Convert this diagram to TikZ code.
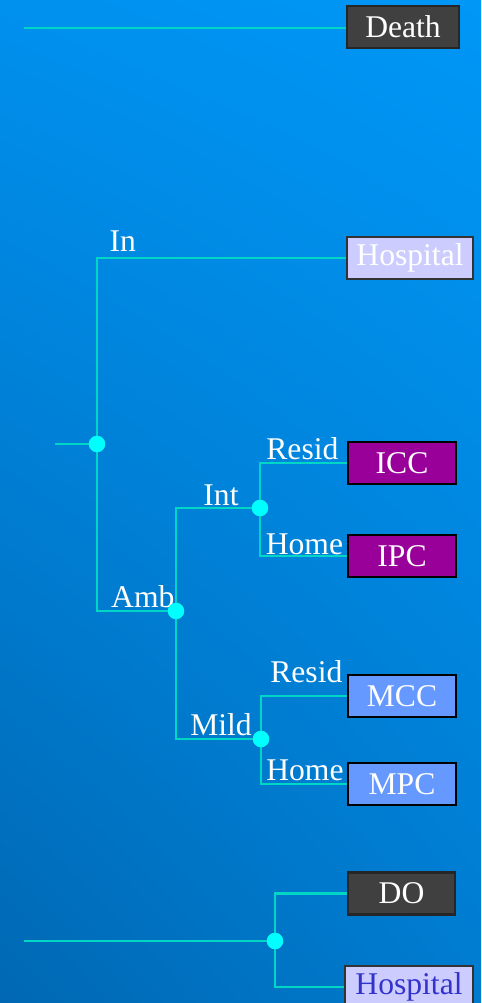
\documentclass[tikz,border=0pt]{standalone}
\usepackage{fontspec}
\setmainfont{Liberation Serif}
\usepackage{tikz}
\usetikzlibrary{positioning}
\usetikzlibrary{shadings}

\definecolor{bgtop}{HTML}{0090EE}
\definecolor{bgtopr}{HTML}{0097F6}
\definecolor{bgbot}{HTML}{0068B3}
\definecolor{bgbotr}{HTML}{007BCF}
\definecolor{branch}{HTML}{00D6C6}
\definecolor{chance}{HTML}{00FFFF}
\definecolor{darkbox}{HTML}{404040}
\definecolor{intbox}{HTML}{990099}
\definecolor{mildbox}{HTML}{6699FF}
\definecolor{hospbox}{HTML}{CCCCFF}
\definecolor{hosptext}{HTML}{3333CC}

\begin{document}
\begin{tikzpicture}[
            x=0.02cm, y=-0.02cm,
            font=\fontsize{18}{20}\selectfont,
            line/.style={line width=1.5pt, draw=branch},
            dot/.style={circle, fill=chance, inner sep=0, minimum size=0.32cm},
            outcome/.style={draw, line width=1.3pt, inner sep=0, minimum height=0.84cm, text=white},
            lbl/.style={text=white, inner sep=0, anchor=base},
        ]
            % background
            \shade[upper left=bgtop, upper right=bgtopr, lower left=bgbot, lower right=bgbotr] (0,0) rectangle (481,1003);
            \useasboundingbox (0,0) rectangle (481,1003);

            % end states
            \node[outcome, fill=darkbox, draw=black!85, minimum width=2.24cm] (death) at (403,27) {Death};
            \node[outcome, fill=hospbox, draw=black!80, minimum width=2.52cm, text=white] (hospT) at (410,258) {Hospital};
            \node[outcome, fill=intbox, draw=black, minimum width=2.16cm] (icc) at (402,463) {ICC};
            \node[outcome, fill=intbox, draw=black, minimum width=2.16cm] (ipc) at (402,556) {IPC};
            \node[outcome, fill=mildbox, draw=black, minimum width=2.16cm] (mcc) at (402,696) {MCC};
            \node[outcome, fill=mildbox, draw=black, minimum width=2.16cm] (mpc) at (402,784) {MPC};
            \node[outcome, fill=darkbox, draw=black!85, minimum width=2.14cm] (do) at (401.5,893.5) {DO};
            \node[outcome, fill=hospbox, draw=black!80, minimum width=2.56cm, text=hosptext] (hospB) at (409,987) {Hospital};

            % free ends of the incoming lines
            \coordinate (deathIn) at (24,28);
            \coordinate (rootIn) at (55,444);
            \coordinate (doIn) at (24,941);

            % chance nodes
            \node[dot] (root) at (97,444) {};
            \node[dot] (amb) at (176,611) {};
            \node[dot] (int) at (260,508) {};
            \node[dot] (mild) at (261,739) {};
            \node[dot] (split) at (275,941) {};

            % branches
            \draw[line] (deathIn) -- (death.west |- deathIn);
            \draw[line] (rootIn) -- (root.center);
            \draw[line] (root.center) |- (hospT.west) node[lbl, pos=0.552, yshift=0.14cm] {In};
            \draw[line] (root.center) |- (amb.center) node[lbl, pos=0.79, yshift=0.08cm] {Amb};
            \draw[line] (amb.center) |- (int.center) node[lbl, pos=0.768, yshift=0.06cm] {Int};
            \draw[line] (amb.center) |- (mild.center) node[lbl, pos=0.765, yshift=0.08cm] {Mild};
            \draw[line] (int.center) |- (icc.west) node[lbl, pos=0.744, yshift=0.08cm] {Resid};
            \draw[line] (int.center) |- (ipc.west) node[lbl, pos=0.756, yshift=0.04cm] {Home};
            \draw[line] (mild.center) |- (mcc.west) node[lbl, pos=0.764, yshift=0.28cm] {Resid};
            \draw[line] (mild.center) |- (mpc.west) node[lbl, pos=0.756, yshift=0.08cm] {Home};
            \draw[line] (doIn) -- (split.center);
            \draw[line] (split.center) |- (do.west);
            \draw[line] (split.center) |- (hospB.west);

            % dots on top of the lines
            \foreach \n in {root, amb, int, mild, split}
                \fill[chance] (\n) circle (0.165cm);
        \end{tikzpicture}
\end{document}
